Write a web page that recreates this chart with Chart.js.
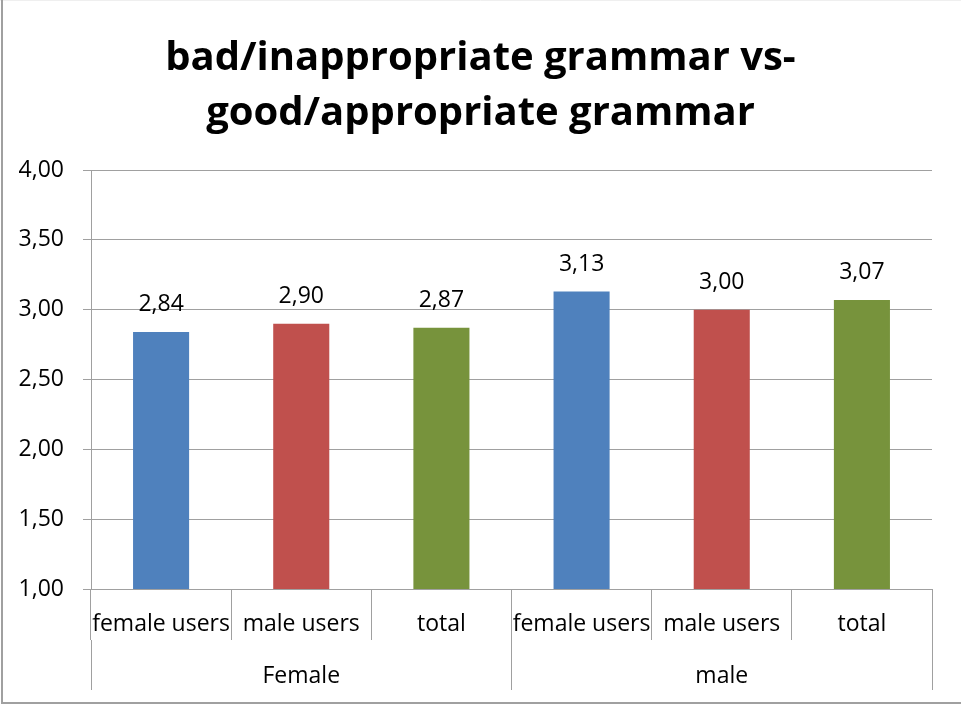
<!DOCTYPE html>
<html>
<head>
<meta charset="utf-8">
<script src="https://cdn.jsdelivr.net/npm/chart.js@4"></script>
<style>
  html, body { margin: 0; padding: 0; background: #fff; }
  canvas { display: block; }
</style>
</head>
<body>
<canvas id="grammarChart" width="961" height="705"></canvas>
<script>
const categories = ['female users', 'male users', 'total', 'female users', 'male users', 'total'];
const groups = ['Female', 'male'];
const means = [2.84, 2.90, 2.87, 3.13, 3.00, 3.07];
const barColors = ['#4F81BD', '#C0504D', '#77933C', '#4F81BD', '#C0504D', '#77933C'];
const titleLines = ['bad/inappropriate grammar vs-', 'good/appropriate grammar'];
const yMin = 1;
const yMax = 4;
const yStep = 0.5;

const lineGray = '#a0a0a0';
const textFont = { family: "'Open Sans', sans-serif", size: 23 };

function comma(v) {
    return Number(v).toFixed(2).replace('.', ',');
}

// white background + the outer frame of the chart object
const framePlugin = {
    id: 'frame',
    beforeDraw(chart) {
        const ctx = chart.ctx;
        ctx.save();
        ctx.fillStyle = '#fff';
        ctx.fillRect(0, 0, chart.width, chart.height);
        ctx.strokeStyle = '#efefef';
        ctx.lineWidth = 1;
        ctx.beginPath();
        ctx.moveTo(0, 0.5);
        ctx.lineTo(chart.width, 0.5);
        ctx.stroke();
        ctx.strokeStyle = lineGray;
        ctx.lineWidth = 2;
        ctx.beginPath();
        ctx.moveTo(2, 0);
        ctx.lineTo(2, 703);
        ctx.lineTo(chart.width, 703);
        ctx.stroke();
        ctx.restore();
    }
};

// value labels above each bar
const valueLabels = {
    id: 'valueLabels',
    afterDatasetsDraw(chart) {
        const ctx = chart.ctx;
        ctx.save();
        ctx.font = textFont.size + 'px ' + textFont.family;
        ctx.fillStyle = '#000';
        ctx.textAlign = 'center';
        ctx.textBaseline = 'alphabetic';
        chart.data.datasets.forEach(function (ds, i) {
            chart.getDatasetMeta(i).data.forEach(function (bar, j) {
                ctx.fillText(comma(ds.data[j]), bar.x, bar.y - 21);
            });
        });
        ctx.restore();
    }
};

const ctx = document.getElementById('grammarChart');

new Chart(ctx, {
    type: 'bar',
    data: {
        labels: categories,
        datasets: [{
            data: means,
            backgroundColor: barColors,
            borderWidth: 0,
            categoryPercentage: 1,
            barPercentage: 0.4
        }]
    },
    options: {
        responsive: false,
        animation: false,
        layout: {
            padding: { left: 0, right: 0, top: 0, bottom: 15 }
        },
        plugins: {
            legend: { display: false },
            tooltip: { enabled: false },
            title: {
                display: true,
                text: titleLines,
                color: '#000',
                font: { family: "'Open Sans', sans-serif", size: 40, weight: 'bold', lineHeight: 1.375 },
                padding: { top: 31, bottom: 29 }
            }
        },
        scales: {
            x: {
                position: 'bottom',
                offset: true,
                grid: {
                    offset: true,
                    drawOnChartArea: false,
                    tickLength: 51,
                    color: lineGray
                },
                border: { display: true, color: lineGray },
                ticks: {
                    color: '#000',
                    font: textFont,
                    padding: -29,
                    maxRotation: 0,
                    autoSkip: false
                },
                afterFit(scale) { scale.height = 51; }
            },
            x2: {
                type: 'category',
                labels: groups,
                position: 'bottom',
                offset: true,
                grid: {
                    offset: true,
                    drawOnChartArea: false,
                    tickLength: 50,
                    color: lineGray
                },
                border: { display: false },
                ticks: {
                    color: '#000',
                    font: textFont,
                    padding: -27,
                    maxRotation: 0
                },
                afterFit(scale) { scale.height = 50; }
            },
            y: {
                min: yMin,
                max: yMax,
                ticks: {
                    stepSize: yStep,
                    color: '#000',
                    font: textFont,
                    padding: 19,
                    callback: function (value) { return comma(value); }
                },
                grid: {
                    color: lineGray,
                    tickLength: 8
                },
                border: { display: true, color: lineGray },
                afterFit(scale) { scale.width = 91; }
            },
            // empty strip on the right so the plot ends short of the edge
            // while the title stays centred on the whole canvas
            yRight: {
                position: 'right',
                min: yMin,
                max: yMax,
                grid: { display: false },
                border: { display: false },
                ticks: { display: false },
                afterFit(scale) { scale.width = 29; }
            }
        }
    },
    plugins: [framePlugin, valueLabels]
});
</script>
</body>
</html>
